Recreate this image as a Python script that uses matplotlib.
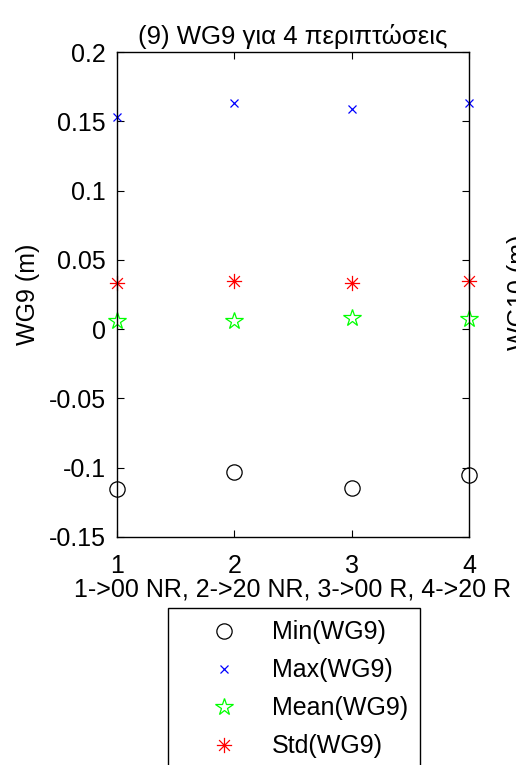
import matplotlib.pyplot as plt
import matplotlib.path as mpath
import numpy as np

plt.rcParams['font.family'] = ['Liberation Sans', 'DejaVu Sans']

# cases 1..4 and the four statistics of WG9 (m)
cases = [1, 2, 3, 4]
wg9_min = [-0.1156, -0.1029, -0.1144, -0.1055]
wg9_max = [0.153, 0.163, 0.159, 0.163]
wg9_mean = [0.006, 0.006, 0.0078, 0.0073]
wg9_std = [0.033, 0.0345, 0.033, 0.0345]

xticks = [1, 2, 3, 4]
yticks = [-0.15, -0.1, -0.05, 0, 0.05, 0.1, 0.15, 0.2]
ytick_labels = ['-0.15', '-0.1', '-0.05', '0', '0.05', '0.1', '0.15', '0.2']

fs = 18

# MATLAB style 8-armed asterisk
s = np.sqrt(0.5)
verts = [(-1, 0), (1, 0), (0, -1), (0, 1), (-s, -s), (s, s), (-s, s), (s, -s)]
codes = [mpath.Path.MOVETO, mpath.Path.LINETO] * 4
asterisk = mpath.Path(verts, codes)

fig = plt.figure(figsize=(5.16, 7.65), dpi=100)
ax = fig.add_axes([117 / 516, 228 / 765, 352 / 516, 485 / 765])

ax.plot(cases, wg9_min, linestyle='none', marker='o', markersize=11,
        markerfacecolor='none', markeredgecolor='black', markeredgewidth=0.9,
        label='Min(WG9)', clip_on=False)
ax.plot(cases, wg9_max, linestyle='none', marker='x', markersize=5.5,
        color='blue', markeredgewidth=0.9, label='Max(WG9)', clip_on=False)
ax.plot(cases, wg9_mean, linestyle='none', marker='*', markersize=13,
        markerfacecolor='none', markeredgecolor=(0, 1, 0), markeredgewidth=0.9,
        label='Mean(WG9)', clip_on=False)
ax.plot(cases, wg9_std, linestyle='none', marker=asterisk, markersize=11,
        color='red', markeredgewidth=0.9, label='Std(WG9)', clip_on=False)

ax.set_xlim(1, 4)
ax.set_ylim(-0.15, 0.2)
ax.set_xticks(xticks)
ax.set_yticks(yticks)
ax.set_yticklabels(ytick_labels)
ax.tick_params(direction='in', top=True, right=True, length=5, width=0.8,
               labelsize=fs)
ax.tick_params(axis='y', pad=8)
ax.tick_params(axis='x', pad=12)
for sp in ax.spines.values():
    sp.set_linewidth(1.0)

ax.set_title('(9) WG9 για 4 περιπτώσεις', fontsize=fs + 0.5, pad=6)
ax.set_ylabel('WG9 (m)', fontsize=fs, labelpad=6)
ax.set_xlabel('1->00 NR, 2->20 NR, 3->00 R, 4->20 R', fontsize=fs, labelpad=0)

# label of the neighbouring subplot, cut by the figure edge
fig.text(507 / 516, 1 - 292 / 765, 'WG10 (m)', rotation=90, fontsize=fs,
         ha='left', va='center')

leg = fig.legend(loc='upper left', bbox_to_anchor=(168 / 516, 1 - 608 / 765, 252 / 516, 0),
                 mode='expand', numpoints=1, fontsize=fs, handlelength=3.5,
                 handletextpad=0.16, labelspacing=0.56, borderpad=0.5,
                 borderaxespad=0, fancybox=False, edgecolor='black', framealpha=1)
leg.get_frame().set_linewidth(1.0)

fig.savefig('out.png', dpi=100)
